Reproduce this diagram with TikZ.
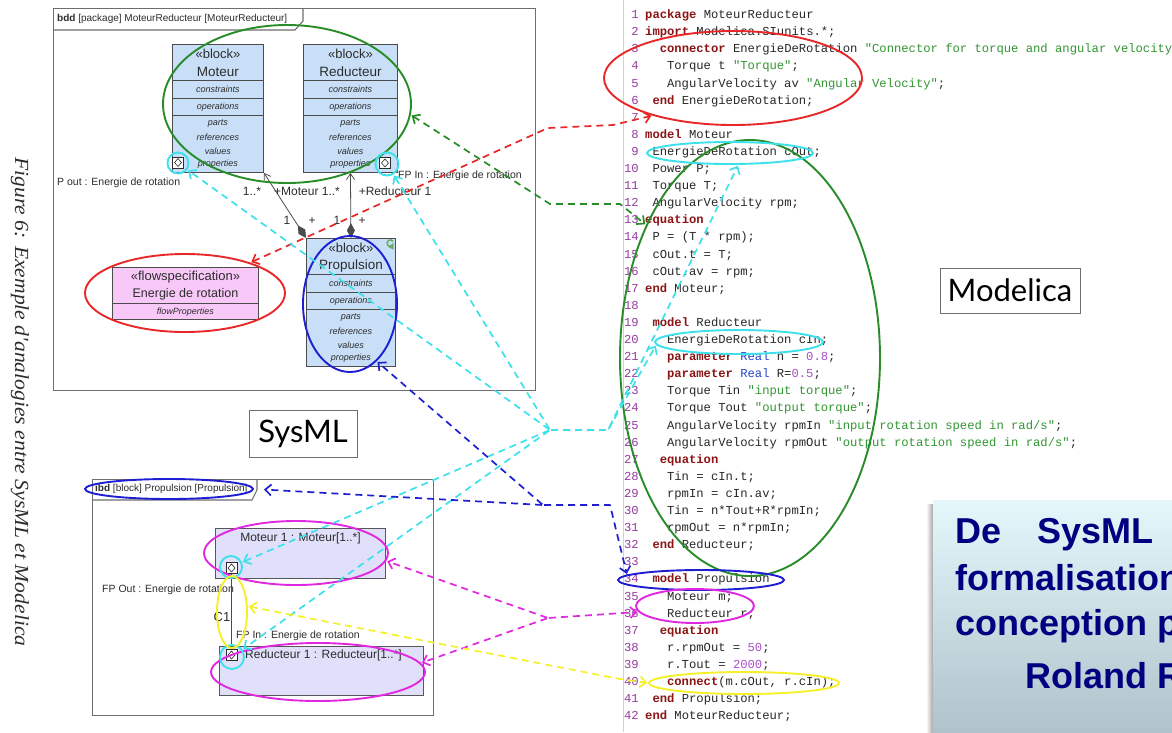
\documentclass[tikz,border=0pt]{standalone}
\usepackage{fontspec}
\setmainfont{Liberation Sans}
\setmonofont{Liberation Mono}
\newfontfamily\capfont{Liberation Serif}
\newfontfamily\tagfont{Lato}
\usetikzlibrary{arrows.meta,shapes.geometric,calc}

\definecolor{blockfill}{RGB}{200,223,247}
\definecolor{flowfill}{RGB}{248,200,248}
\definecolor{partfill}{RGB}{224,224,250}
\definecolor{framegray}{RGB}{110,110,110}
\definecolor{inkgray}{RGB}{45,45,45}
\definecolor{mred}{RGB}{232,40,40}
\definecolor{mgreen}{RGB}{40,140,40}
\definecolor{mcyan}{RGB}{60,225,235}
\definecolor{mblue}{RGB}{30,30,210}
\definecolor{mmag}{RGB}{225,40,225}
\definecolor{myel}{RGB}{245,240,40}
\definecolor{kwred}{RGB}{140,20,20}
\definecolor{strgreen}{RGB}{50,150,50}
\definecolor{numpurple}{RGB}{170,80,200}
\definecolor{typeblue}{RGB}{40,70,200}
\definecolor{lnpurple}{RGB}{150,60,160}
\definecolor{codeink}{RGB}{40,40,40}
\definecolor{titlenavy}{RGB}{0,0,128}
\definecolor{boxtop}{RGB}{228,248,252}
\definecolor{boxbot}{RGB}{176,194,202}

% Modelica syntax colouring
\newcommand\cKw[1]{\textbf{\color{kwred}#1}}
\newcommand\cStr[1]{{\color{strgreen}#1}}
\newcommand\cNum[1]{{\color{numpurple}#1}}
\newcommand\cTyp[1]{{\color{typeblue}#1}}

% one numbered line of the listing: number, indent (chars), text
\newcommand\cl[3]{%
  \node[lnum] (ln#1) at (639,{16+(#1-1)*17.1}) {#1};
  \node[ltxt] (lc#1) at ({645+#2*7.3},{16+(#1-1)*17.1}) {#3};}

% SysML block with its compartments: name, x, y, width, title
\newcommand\sysblock[5]{%
  \node[blk, minimum width=#4pt, anchor=north west] (#1) at (#2,#3) {};
  \foreach \d in {36,54,71}
    \draw[blkrule] ([yshift=-\d pt]#1.north west) -- ([yshift=-\d pt]#1.north east);
  \node[stereo] (#1-st) at ([yshift=-10pt]#1.north) {«block»};
  \node[bname] (#1-nm) at ([yshift=-28pt]#1.north) {#5};
  \node[comp] (#1-c1) at ([yshift=-45.5pt]#1.north) {constraints};
  \node[comp] (#1-c2) at ([yshift=-63pt]#1.north) {operations};
  \node[comp] (#1-c3) at ([yshift=-80pt]#1.north) {parts};
  \node[comp] (#1-c4) at ([yshift=-93.5pt]#1.north) {references};
  \node[comp] (#1-c5) at ([yshift=-107pt]#1.north) {values};
  \node[comp] (#1-c6) at ([yshift=-120.5pt]#1.north) {properties};}

% flow port square with its small diamond
\newcommand\portglyph[1]{%
  \draw[inkgray, line width=0.6pt] ([xshift=-3.5pt]#1.center) -- ([yshift=4pt]#1.center)
    -- ([xshift=3.5pt]#1.center) -- ([yshift=-4pt]#1.center) -- cycle;}

\begin{document}
\begin{tikzpicture}[x=1pt,y=-1pt,
  diagframe/.style={draw=framegray, line width=1.1pt},
  blk/.style={draw=inkgray!85, line width=0.9pt, fill=blockfill, inner sep=0pt, minimum height=128pt},
  blkrule/.style={draw=inkgray!85, line width=0.9pt},
  stereo/.style={font=\fontsize{13}{15}\selectfont, text=inkgray, inner sep=0pt},
  bname/.style={font=\fontsize{13.5}{15}\selectfont, text=inkgray, inner sep=0pt},
  comp/.style={font=\itshape\fontsize{9}{10}\selectfont, text=inkgray, inner sep=0pt},
  small/.style={font=\fontsize{12}{13}\selectfont, text=inkgray, inner sep=0pt},
  fplbl/.style={font=\fontsize{10.5}{12}\selectfont, text=inkgray, inner sep=0pt, anchor=mid west},
  portbox/.style={draw=inkgray, fill=white, line width=0.7pt, minimum size=11pt, inner sep=0pt},
  partblk/.style={draw=inkgray!80, line width=1pt, fill=partfill, inner sep=0pt, anchor=north west},
  assoc/.style={draw=inkgray!85, line width=0.8pt},
  tagbox/.style={draw=framegray, line width=0.9pt, fill=white, font=\tagfont\fontsize{31}{34}\selectfont, text=black, inner sep=0pt},
  lnum/.style={anchor=mid east, inner sep=0pt, font=\ttfamily\fontsize{12.2}{14}\selectfont, text=lnpurple},
  ltxt/.style={anchor=mid west, inner sep=0pt, font=\ttfamily\fontsize{12.2}{14}\selectfont, text=codeink},
  ring/.style={ellipse, draw, line width=1.9pt, inner sep=0pt},
  darr/.style={line width=1.7pt, dash pattern=on 7pt off 5pt, line join=round, shorten >=1pt, shorten <=1pt},
  oneway/.style={-{Straight Barb[length=6pt,width=11pt]}},
  twoway/.style={{Straight Barb[length=6pt,width=11pt]}-{Straight Barb[length=6pt,width=11pt]}},
  titletext/.style={anchor=base west, inner sep=0pt, text=titlenavy, font=\bfseries\fontsize{36}{40}\selectfont}]

\useasboundingbox (0,0) rectangle (1172,732);
\fill[white] (0,0) rectangle (1172,732);

% ---------------- caption ----------------
\node[rotate=-90, inner sep=0pt, text=inkgray, xscale=1.08,
      font=\capfont\itshape\fontsize{20}{22}\selectfont] (caption) at (20,402)
  {Figure 6: Exemple d'analogies entre SysML et Modelica};

% ---------------- block definition diagram ----------------
\node[diagframe, minimum width=482pt, minimum height=382pt, anchor=north west, inner sep=0pt] (bdd) at (53,8) {};
\draw[diagframe] (53,30) -- (295,30) -- (303,21) -- (303,8);
\node[anchor=mid west, inner sep=0pt, text=inkgray, font=\fontsize{10}{12}\selectfont] (bddtitle) at (57,19)
  {\textbf{bdd} [package] MoteurReducteur [MoteurReducteur]};

\sysblock{moteur}{172}{44}{91}{Moteur}
\sysblock{reducteur}{303}{44}{94}{Reducteur}
\sysblock{propulsion}{306}{238}{89}{Propulsion}

% small green marker of the Propulsion block
\draw[mgreen!70!white, line width=1.5pt] (392,246) arc[start angle=-60, end angle=-330, radius=3.3pt];
\fill[mgreen!70!white] (393.5,243) -- (393.5,249.5) -- (388,247) -- cycle;

% flow ports
\node[portbox] (pmot) at (178,162.5) {};
\portglyph{pmot}
\node[portbox] (pred) at (385,163) {};
\portglyph{pred}

% compositions
\draw[assoc, {Diamond[length=15pt,width=8pt]}-{Straight Barb[length=6pt,width=8pt]}]
  (propulsion.north west) -- (moteur.south east);
\draw[assoc, {Diamond[length=15pt,width=8pt]}-{Straight Barb[length=6pt,width=8pt]}]
  (propulsion.north) -- (reducteur.south);
\node[small] (am1) at (252,191) {1..*};
\node[small] (am2) at (307,191) {+Moteur 1..*};
\node[small] (ar2) at (395,191) {+Reducteur 1};
\node[small] (am3) at (287,220) {1};
\node[small] (am4) at (312,221) {+};
\node[small] (ar3) at (337,220) {1};
\node[small] (ar4) at (362,221) {+};

\node[fplbl] (pout) at (57,183) {P out : Energie de rotation};
\node[fplbl] (fpin) at (398,176) {FP In : Energie de rotation};

% flow specification
\node[draw=inkgray!85, line width=0.9pt, fill=flowfill, inner sep=0pt, minimum width=146pt,
      minimum height=52pt, anchor=north west] (flow) at (112,267) {};
\draw[blkrule] ([yshift=-36pt]flow.north west) -- ([yshift=-36pt]flow.north east);
\node[stereo] (flow-st) at ([yshift=-10pt]flow.north) {«flowspecification»};
\node[bname, font=\fontsize{12.5}{14}\selectfont] (flow-nm) at ([yshift=-27pt]flow.north) {Energie de rotation};
\node[comp] (flow-pr) at ([yshift=-45pt]flow.north) {flowProperties};

\node[tagbox, minimum width=108pt, minimum height=47pt] (sysml) at (303,433.5) {SysML};

% ---------------- internal block diagram ----------------
\node[diagframe, minimum width=341pt, minimum height=236pt, anchor=north west, inner sep=0pt] (ibd) at (92,479) {};
\draw[diagframe] (92,500) -- (252,500) -- (257,490) -- (257,479);
\node[anchor=mid west, inner sep=0pt, text=inkgray, font=\fontsize{10}{12}\selectfont] (ibdtitle) at (95,489)
  {\textbf{ibd} [block] Propulsion [Propulsion]};

\node[partblk, minimum width=170pt, minimum height=50pt] (mot1) at (215,528) {};
\node[small] (mot1-nm) at ([yshift=-10pt]mot1.north) {Moteur 1 : Moteur[1..*]};
\node[partblk, minimum width=204pt, minimum height=49pt] (red1) at (219,646) {};
\node[small, anchor=mid west] (red1-nm) at (245,656) {Reducteur 1 : Reducteur[1..*]};

\node[portbox] (pm1) at (231.5,568) {};
\portglyph{pm1}
\node[portbox] (pr1) at (231.5,655) {};
\portglyph{pr1}
\draw[assoc] (pm1.south) -- (pr1.north);
\node[small, font=\fontsize{13}{14}\selectfont] (c1) at (222,617) {C1};
\node[fplbl] (fpout1) at (102,590) {FP Out : Energie de rotation};
\node[fplbl] (fpin1) at (236,636) {FP In : Energie de rotation};

% ---------------- Modelica listing ----------------
\draw[black!18, line width=0.8pt] (623,0) -- (623,732);
\cl{1}{0}{\cKw{package} MoteurReducteur}
\cl{2}{0}{\cKw{import} Modelica.SIunits.*;}
\cl{3}{2}{\cKw{connector} EnergieDeRotation \cStr{"Connector for torque and angular velocity}}
\cl{4}{3}{Torque t \cStr{"Torque"};}
\cl{5}{3}{AngularVelocity av \cStr{"Angular Velocity"};}
\cl{6}{1}{\cKw{end} EnergieDeRotation;}
\cl{7}{0}{}
\cl{8}{0}{\cKw{model} Moteur}
\cl{9}{1}{EnergieDeRotation cOut;}
\cl{10}{1}{Power P;}
\cl{11}{1}{Torque T;}
\cl{12}{1}{AngularVelocity rpm;}
\cl{13}{0}{\cKw{equation}}
\cl{14}{1}{P = (T * rpm);}
\cl{15}{1}{cOut.t = T;}
\cl{16}{1}{cOut.av = rpm;}
\cl{17}{0}{\cKw{end} Moteur;}
\cl{18}{0}{}
\cl{19}{1}{\cKw{model} Reducteur}
\cl{20}{3}{EnergieDeRotation cIn;}
\cl{21}{3}{\cKw{parameter} \cTyp{Real} n = \cNum{0.8};}
\cl{22}{3}{\cKw{parameter} \cTyp{Real} R=\cNum{0.5};}
\cl{23}{3}{Torque Tin \cStr{"input torque"};}
\cl{24}{3}{Torque Tout \cStr{"output torque"};}
\cl{25}{3}{AngularVelocity rpmIn \cStr{"input rotation speed in rad/s"};}
\cl{26}{3}{AngularVelocity rpmOut \cStr{"output rotation speed in rad/s"};}
\cl{27}{2}{\cKw{equation}}
\cl{28}{3}{Tin = cIn.t;}
\cl{29}{3}{rpmIn = cIn.av;}
\cl{30}{3}{Tin = n*Tout+R*rpmIn;}
\cl{31}{3}{rpmOut = n*rpmIn;}
\cl{32}{1}{\cKw{end} Reducteur;}
\cl{33}{0}{}
\cl{34}{1}{\cKw{model} Propulsion}
\cl{35}{3}{Moteur m;}
\cl{36}{3}{Reducteur r;}
\cl{37}{2}{\cKw{equation}}
\cl{38}{3}{r.rpmOut = \cNum{50};}
\cl{39}{3}{r.Tout = \cNum{2000};}
\cl{40}{3}{\cKw{connect}(m.cOut, r.cIn);}
\cl{41}{1}{\cKw{end} Propulsion;}
\cl{42}{0}{\cKw{end} MoteurReducteur;}

\node[tagbox, minimum width=140pt, minimum height=45pt] (modelica) at (1010,290.5) {Modelica};

% ---------------- title panel ----------------
\shade[left color=white, right color=black!40] (926,504) rectangle (934,732);
\shade[top color=boxtop, bottom color=boxbot] (933,500) rectangle (1172,732);
\begin{scope}
  \clip (933,500) rectangle (1172,732);
  \node[titletext] (t1) at (955,543) {De\hspace{36pt}SysML};
  \node[titletext] (t2) at (955,590) {formalisation};
  \node[titletext] (t3) at (955,635) {conception p};
  \node[titletext] (t4) at (1025,688) {Roland R};
\end{scope}

% ---------------- highlight rings ----------------
\node[ring, draw=mgreen, minimum width=248pt, minimum height=158pt] (egreen) at (287,104) {};
\node[ring, draw=mred, minimum width=200pt, minimum height=78pt] (ered) at (185,293) {};
\node[ring, draw=mblue, minimum width=94pt, minimum height=136pt] (eblue) at (350,304) {};
\node[ring, draw=mcyan, minimum width=21pt, minimum height=21pt] (cmot) at (178,163) {};
\node[ring, draw=mcyan, minimum width=23pt, minimum height=23pt] (cred) at (387,164) {};

\node[ring, draw=mblue, minimum width=168pt, minimum height=20pt] (eibd) at (169,489) {};
\node[ring, draw=mmag, minimum width=184pt, minimum height=64pt] (emag1) at (296,553) {};
\node[ring, draw=mmag, minimum width=214pt, minimum height=58pt] (emag2) at (318,672) {};
\node[ring, draw=mcyan, minimum width=22pt, minimum height=22pt] (cm1) at (231,567) {};
\node[ring, draw=mcyan, minimum width=24pt, minimum height=24pt] (cr1) at (232,657) {};
\node[ring, draw=myel, minimum width=30pt, minimum height=72pt] (eyel) at (232,612) {};

\node[ring, draw=mred, minimum width=258pt, minimum height=94pt] (ecred) at (733,78) {};
\node[ring, draw=mgreen, minimum width=260pt, minimum height=436pt] (ecgreen) at (750,358) {};
\node[ring, draw=mcyan, minimum width=166pt, minimum height=22pt] (eccyan1) at (730,153) {};
\node[ring, draw=mcyan, minimum width=168pt, minimum height=24pt] (eccyan2) at (739,342) {};
\node[ring, draw=mblue, minimum width=166pt, minimum height=20pt] (ecblue) at (701,580) {};
\node[ring, draw=mmag, minimum width=118pt, minimum height=34pt] (ecmag) at (695,606) {};
\node[ring, draw=myel, minimum width=190pt, minimum height=22pt] (ecyel) at (744,683) {};

% ---------------- correspondence arrows ----------------
\coordinate (rb1) at (548,128);
\coordinate (rb2) at (613,125);
\draw[darr, draw=mred, twoway] (ered.25) -- (rb1) -- (rb2) -- (ecred.205);

\coordinate (gb1) at (550,204);
\coordinate (gb2) at (620,204);
\draw[darr, draw=mgreen, twoway] (egreen.-5) -- (gb1) -- (gb2) -- (ecgreen.128);

\coordinate (chub) at (550,430);
\coordinate (cbend) at (608,430);
\draw[darr, draw=mcyan, oneway] (chub) -- (cmot);
\draw[darr, draw=mcyan, oneway] (chub) -- (cred);
\draw[darr, draw=mcyan, oneway] (chub) -- (cm1);
\draw[darr, draw=mcyan, oneway] (chub) -- (cr1);
\draw[darr, draw=mcyan, oneway] (chub) -- (cbend) -- (eccyan1.-55);
\draw[darr, draw=mcyan, oneway] (cbend) -- (eccyan2.182);

\coordinate (bj) at (543,505);
\coordinate (bbend) at (610,505);
\draw[darr, draw=mblue, oneway] (bj) -- (eblue.-65);
\draw[darr, draw=mblue, oneway, shorten >=10pt] (bj) -- (eibd.0);
\draw[darr, draw=mblue, oneway] (bj) -- (bbend) -- (ecblue.176);

\coordinate (mh) at (548,618);
\draw[darr, draw=mmag, oneway] (mh) -- (ecmag.186);
\draw[darr, draw=mmag, oneway] (mh) -- (emag1.-5);
\draw[darr, draw=mmag, oneway] (mh) -- (emag2.5);

\coordinate (yb) at (620,679);
\draw[darr, draw=myel, twoway] (eyel.20) -- (yb) -- (ecyel.180);

\end{tikzpicture}
\end{document}
